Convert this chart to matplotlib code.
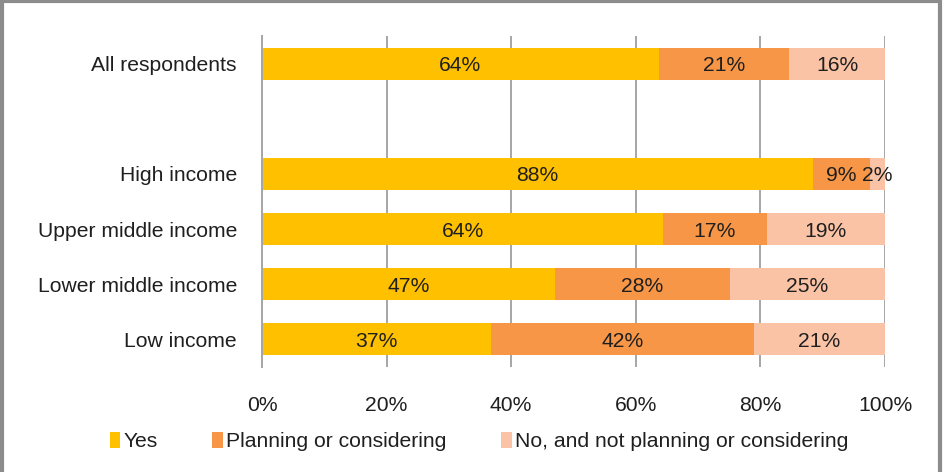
import numpy as np
import matplotlib
matplotlib.use("Agg")
import matplotlib.pyplot as plt
from matplotlib.patches import Rectangle, Patch

plt.rcParams["font.family"] = ["Liberation Sans", "DejaVu Sans"]

# --- Data (share of respondents, %) ---
groups   = ["Low income", "Lower middle income", "Upper middle income",
            "High income", "All respondents"]
rows     = [0, 1, 2, 3, 5]          # gap between income groups and total
yes      = [36.8, 47.0, 64.4, 88.4, 63.7]
planning = [42.2, 28.1, 16.6, 9.2, 20.9]
no       = [21.0, 24.9, 19.0, 2.4, 15.5]
series_names = ["Yes", "Planning or considering",
                "No, and not planning or considering"]
colors = ["#FFC000", "#F79646", "#FAC3A6"]
xticks = [0, 20, 40, 60, 80, 100]

FS = 15.2
TXT = "#1f1f1f"

fig = plt.figure(figsize=(9.43, 4.72), dpi=100)
ax = fig.add_axes([0.2778, 0.2225, 0.6607, 0.7012])

left = np.zeros(len(rows))
for vals, col in zip([yes, planning, no], colors):
    vals = np.array(vals)
    ax.barh(rows, vals, left=left, height=0.58, color=col, zorder=3)
    for y, l, v in zip(rows, left, vals):
        ax.text(l + v / 2, y, f"{round(v)}%", ha="center", va="center_baseline",
                fontsize=FS, color=TXT, zorder=4)
    left = left + vals

ax.set_xlim(0, 100)
ax.set_ylim(-0.5, 5.5)
ax.set_yticks(rows)
ax.set_yticklabels(groups, fontsize=FS, color=TXT, va="center_baseline")
ax.set_xticks(xticks)
ax.set_xticklabels([f"{t}%" for t in xticks], fontsize=FS, color=TXT)
ax.tick_params(length=0)
ax.tick_params(axis="x", pad=21)
ax.tick_params(axis="y", pad=18)
ax.grid(axis="x", color="#A6A6A6", linewidth=1.4, zorder=0)
for s in ["top", "right", "bottom"]:
    ax.spines[s].set_visible(False)
ax.spines["left"].set_color("#A6A6A6")
ax.spines["left"].set_linewidth(1.4)
ax.spines["left"].set_zorder(5)

handles = [Patch(facecolor=c, edgecolor="none") for c in colors]
fig.legend(handles, series_names, loc="center", bbox_to_anchor=(0.508, 0.064),
           ncol=3, frameon=False, fontsize=FS, handlelength=0.5,
           handleheight=0.75, handletextpad=0.15, columnspacing=2.6,
           labelcolor=TXT)

# outer chart frame
fig.patches.append(Rectangle((0.002, -0.05), 0.995, 1.048, transform=fig.transFigure,
                             fill=False, edgecolor="#8C8C8C", linewidth=3))

fig.savefig("out.png", dpi=100)
